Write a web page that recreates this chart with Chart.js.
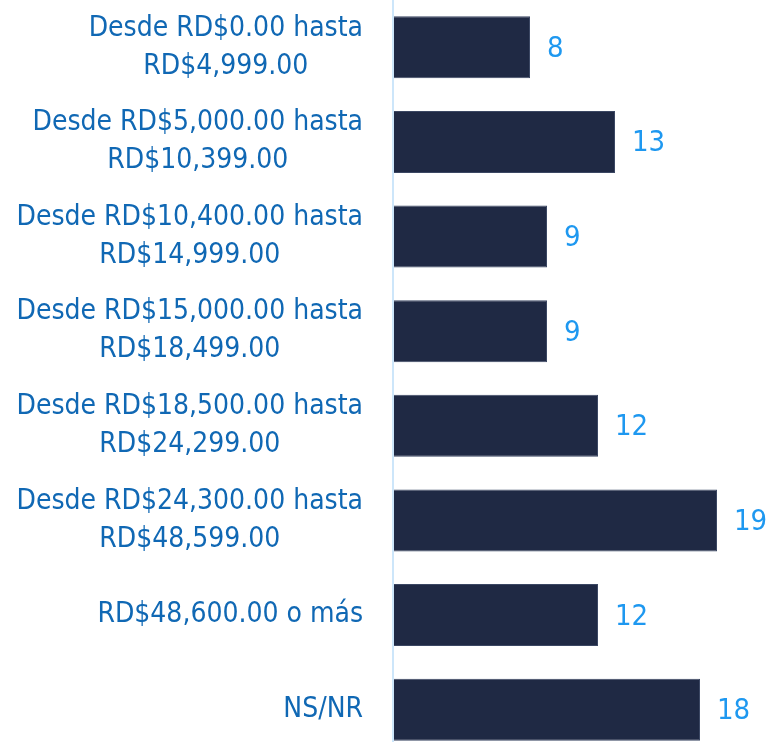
<!DOCTYPE html>
<html>
<head>
<meta charset="utf-8">
<script src="https://cdn.jsdelivr.net/npm/chart.js@4/dist/chart.umd.min.js"></script>
<style>
  html, body { margin: 0; padding: 0; background: #fff; overflow: hidden; }
  #wrap { width: 781px; height: 757px; }
</style>
</head>
<body>
<div id="wrap"><canvas id="incomeChart" width="781" height="757"></canvas></div>
<script>
// Category labels (each entry = lines of the label)
const categories = [
  ['Desde RD$0.00 hasta', 'RD$4,999.00'],
  ['Desde RD$5,000.00 hasta', 'RD$10,399.00'],
  ['Desde RD$10,400.00 hasta', 'RD$14,999.00'],
  ['Desde RD$15,000.00 hasta', 'RD$18,499.00'],
  ['Desde RD$18,500.00 hasta', 'RD$24,299.00'],
  ['Desde RD$24,300.00 hasta', 'RD$48,599.00'],
  ['RD$48,600.00 o más'],
  ['NS/NR']
];
const values = [8, 13, 9, 9, 12, 19, 12, 18];

const LABEL_FONT = '28px "Liberation Sans Narrow", "DejaVu Sans Condensed", "Noto Sans", sans-serif';
const VALUE_FONT = '29px "Liberation Sans Narrow", "DejaVu Sans Condensed", "Noto Sans", sans-serif';

// Draws axis line, category labels and value labels
const decorations = {
  id: 'decorations',
  afterDatasetsDraw(chart) {
    const ctx = chart.ctx;
    const xScale = chart.scales.x;
    const yScale = chart.scales.y;
    const x0 = xScale.getPixelForValue(0);

    // axis line
    ctx.save();
    ctx.strokeStyle = '#cde6fa';
    ctx.lineWidth = 2;
    ctx.beginPath();
    ctx.moveTo(x0 - 1, chart.chartArea.top);
    ctx.lineTo(x0 - 1, chart.chartArea.bottom);
    ctx.stroke();

    // category labels: block right-aligned, lines centered within block
    ctx.font = LABEL_FONT;
    ctx.fillStyle = '#1068b4';
    ctx.textAlign = 'center';
    ctx.textBaseline = 'middle';
    const lineH = 38;
    const rightEdge = x0 - 31;
    categories.forEach((lines, i) => {
      const yc = yScale.getPixelForValue(i);
      const w = Math.max(...lines.map(l => ctx.measureText(l).width));
      const cx = rightEdge - w / 2;
      lines.forEach((line, j) => {
        const y = yc + (j - (lines.length - 1) / 2) * lineH;
        ctx.fillText(line, cx, y);
      });
    });

    // value labels
    ctx.font = VALUE_FONT;
    ctx.fillStyle = '#1e98f0';
    ctx.textAlign = 'left';
    const meta = chart.getDatasetMeta(0);
    meta.data.forEach((bar, i) => {
      ctx.fillText(String(values[i]), bar.x + 17, bar.y + 2);
    });
    ctx.restore();
  }
};

new Chart(document.getElementById('incomeChart'), {
  type: 'bar',
  data: {
    labels: categories,
    datasets: [{
      data: values,
      backgroundColor: '#1f2944',
      borderColor: '#3b4763',
      borderWidth: 1,
      borderSkipped: 'left',
      categoryPercentage: 1,
      barPercentage: 0.655
    }]
  },
  options: {
    indexAxis: 'y',
    responsive: false,
    animation: false,
    layout: { padding: { left: 394, right: 13, top: 0, bottom: 0 } },
    plugins: {
      legend: { display: false },
      tooltip: { enabled: false }
    },
    scales: {
      x: { display: false, min: 0, max: 22 },
      y: { display: false }
    }
  },
  plugins: [decorations]
});
</script>
</body>
</html>
